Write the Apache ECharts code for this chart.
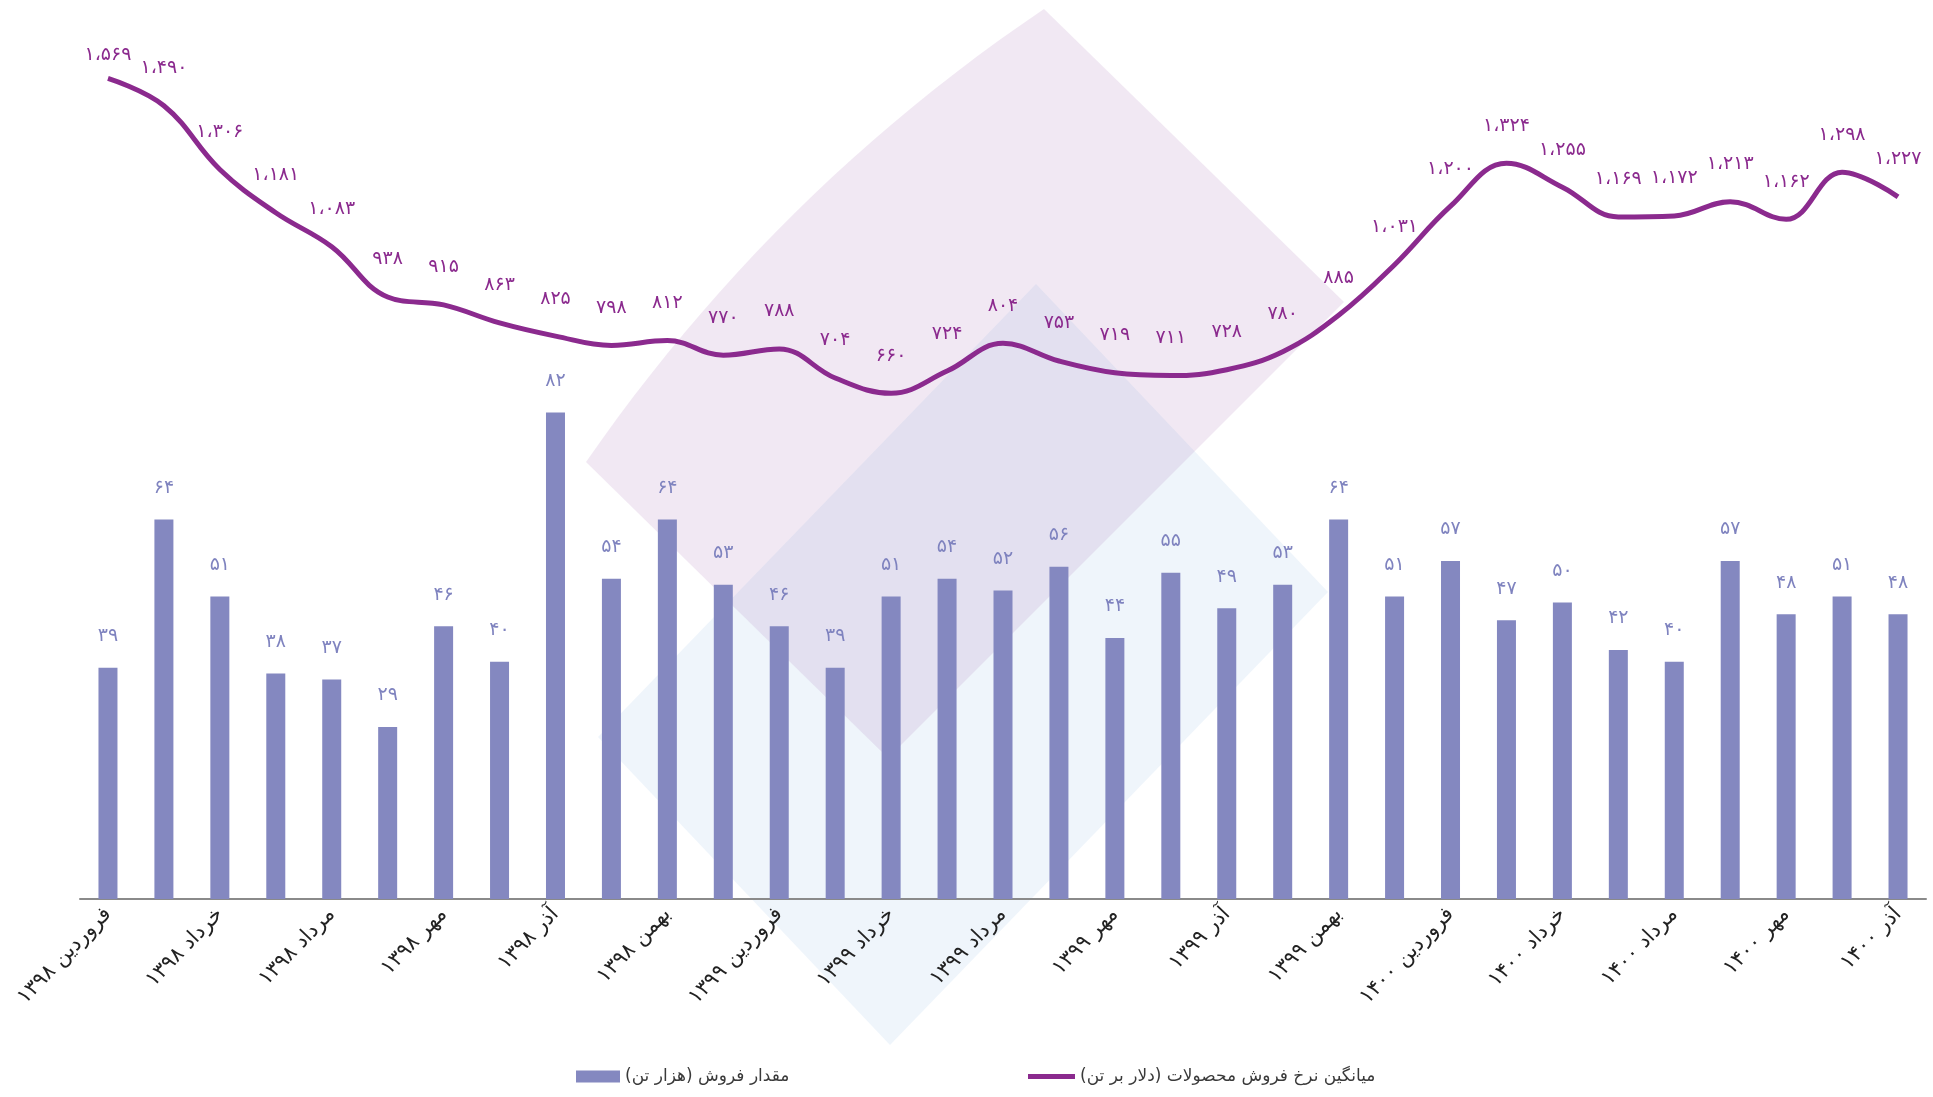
<!DOCTYPE html>
<html>
<head>
<meta charset="utf-8">
<title>chart</title>
<script src="https://cdn.jsdelivr.net/npm/echarts@6/dist/echarts.min.js"></script>
<style>
  html, body { margin: 0; padding: 0; background: #fff; }
  #main { width: 1933px; height: 1097px; }
</style>
</head>
<body>
<div id="main"></div>
<script>
  // months Farvardin 1398 .. Azar 1400
  var categories = [
    'فروردین ۱۳۹۸', 'اردیبهشت ۱۳۹۸', 'خرداد ۱۳۹۸', 'تیر ۱۳۹۸', 'مرداد ۱۳۹۸', 'شهریور ۱۳۹۸',
    'مهر ۱۳۹۸', 'آبان ۱۳۹۸', 'آذر ۱۳۹۸', 'دی ۱۳۹۸', 'بهمن ۱۳۹۸', 'اسفند ۱۳۹۸',
    'فروردین ۱۳۹۹', 'اردیبهشت ۱۳۹۹', 'خرداد ۱۳۹۹', 'تیر ۱۳۹۹', 'مرداد ۱۳۹۹', 'شهریور ۱۳۹۹',
    'مهر ۱۳۹۹', 'آبان ۱۳۹۹', 'آذر ۱۳۹۹', 'دی ۱۳۹۹', 'بهمن ۱۳۹۹', 'اسفند ۱۳۹۹',
    'فروردین ۱۴۰۰', 'اردیبهشت ۱۴۰۰', 'خرداد ۱۴۰۰', 'تیر ۱۴۰۰', 'مرداد ۱۴۰۰', 'شهریور ۱۴۰۰',
    'مهر ۱۴۰۰', 'آبان ۱۴۰۰', 'آذر ۱۴۰۰'
  ];
  // sales volume (thousand tons)
  var salesVolume = [39, 64, 51, 38, 37, 29, 46, 40, 82, 54, 64, 53, 46, 39, 51, 54, 52, 56, 44, 55, 49, 53, 64, 51, 57, 47, 50, 42, 40, 57, 48, 51, 48];
  // average sale price (USD per ton)
  var avgPrice = [1569, 1490, 1306, 1181, 1083, 938, 915, 863, 825, 798, 812, 770, 788, 704, 660, 724, 804, 753, 719, 711, 728, 780, 885, 1031, 1200, 1324, 1255, 1169, 1172, 1213, 1162, 1298, 1227];

  var barName = 'مقدار فروش (هزار تن)';
  var lineName = 'میانگین نرخ فروش محصولات (دلار بر تن)';
  var RLM = '\u200F';

  function fa(n) {
    return String(n)
      .replace(/\B(?=(\d{3})+(?!\d))/g, '،')
      .replace(/\d/g, function (d) { return '۰۱۲۳۴۵۶۷۸۹'[d]; });
  }

  // background decoration: pink shape with a bulging upper-left edge
  function curvedEdge(p0, c, p2, steps) {
    var pts = [];
    for (var i = 0; i <= steps; i++) {
      var t = i / steps, u = 1 - t;
      pts.push([u * u * p0[0] + 2 * u * t * c[0] + t * t * p2[0],
                u * u * p0[1] + 2 * u * t * c[1] + t * t * p2[1]]);
    }
    return pts;
  }
  var pinkShape = curvedEdge([586, 462], [773, 192], [1044, 9], 24).concat([[1344, 302], [888, 758]]);
  var blueShape = [[598, 737], [1036, 284], [1328, 592], [890, 1045]];

  var font = 'DejaVu Sans';
  var barColor = '#8488c0';
  var lineColor = '#8b2a8e';

  // first price label sits a little closer to the line in the original
  var priceData = avgPrice.map(function (v, i) {
    return i === 0 ? { value: v, label: { distance: 14 } } : v;
  });

  var myChart = echarts.init(document.getElementById('main'));
  window.addEventListener('resize', myChart.resize);

  myChart.setOption({
    animation: false,
    textStyle: { fontFamily: font },
    graphic: [
      {
        type: 'polygon',
        z: -10,
        shape: { points: pinkShape },
        style: { fill: 'rgba(150,80,160,0.13)' },
        silent: true
      },
      {
        type: 'polygon',
        z: -9,
        shape: { points: blueShape },
        style: { fill: 'rgba(100,160,220,0.10)' },
        silent: true
      }
    ],
    grid: { left: 80, right: 7, top: 33, bottom: 198, containLabel: false },
    legend: [
      {
        data: [{ name: barName, icon: 'rect' }],
        left: 571,
        top: 1063,
        itemWidth: 44,
        itemHeight: 12,
        formatter: function (n) { return n + RLM; },
        textStyle: { fontFamily: font, fontSize: 17, color: '#3a3a3a' }
      },
      {
        data: [{ name: lineName, icon: 'rect' }],
        left: 1023,
        top: 1063,
        itemWidth: 47,
        itemHeight: 5,
        formatter: function (n) { return n + RLM; },
        textStyle: { fontFamily: font, fontSize: 17, color: '#3a3a3a' }
      }
    ],
    xAxis: {
      type: 'category',
      data: categories,
      boundaryGap: true,
      axisLine: { lineStyle: { color: '#8a8a8a', width: 2 } },
      axisTick: { show: false },
      axisLabel: {
        interval: 1,
        rotate: 46,
        margin: 12,
        color: '#222',
        fontSize: 21,
        fontFamily: font
      },
      splitLine: { show: false }
    },
    yAxis: [
      { type: 'value', min: 0, max: 146, show: false, splitLine: { show: false } },
      { type: 'value', min: -800, max: 1700, show: false, splitLine: { show: false } }
    ],
    series: [
      {
        name: barName,
        type: 'bar',
        yAxisIndex: 0,
        barWidth: 19,
        itemStyle: { color: barColor },
        label: {
          show: true,
          position: 'top',
          distance: 22,
          color: '#7f83bf',
          fontSize: 19,
          fontFamily: font,
          formatter: function (p) { return fa(p.value); }
        },
        data: salesVolume
      },
      {
        name: lineName,
        type: 'line',
        yAxisIndex: 1,
        smooth: 0.4,
        symbol: 'circle',
        symbolSize: 0,
        showSymbol: true,
        lineStyle: { color: lineColor, width: 5 },
        itemStyle: { color: lineColor },
        label: {
          show: true,
          position: 'top',
          distance: 28,
          color: lineColor,
          fontSize: 19,
          fontFamily: font,
          formatter: function (p) { return fa(p.value); }
        },
        labelLayout: { hideOverlap: false },
        data: priceData
      }
    ]
  });
</script>
</body>
</html>
